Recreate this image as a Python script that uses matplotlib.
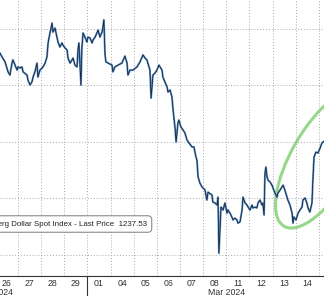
import matplotlib.pyplot as plt
from matplotlib import transforms
from matplotlib.patches import Ellipse

plt.rcParams['font.family'] = ['Liberation Sans', 'DejaVu Sans']

# trading-day slots shown on the axis (Feb 26 .. Mar 14, 2024)
days = ['26', '27', '28', '29', '01', '04', '05', '06', '07', '08', '11', '12', '13', '14']
months = ['Feb 2024', 'Mar 2024']
month_pos = [0.0, 10.0]
month_break = 4
grid_levels = [1232.5, 1235.0, 1237.5, 1240.0, 1242.5]

# intraday position (in trading-day slots) and index level
t_feb = [0.22, 0.31, 0.44, 0.57, 0.65, 0.74, 0.78, 0.87, 0.96, 1.00, 1.09, 1.17, 1.22, 1.39, 1.43,
         1.52, 1.60, 1.65, 1.73, 1.82, 1.86, 1.95, 2.04, 2.08, 2.17, 2.25, 2.30, 2.38, 2.47, 2.51,
         2.60, 2.68, 2.73, 2.81, 2.90, 2.94, 3.03, 3.12, 3.16, 3.25, 3.33, 3.38, 3.46, 3.55, 3.59,
         3.63, 3.72, 3.76, 3.81, 3.89, 3.98, 4.02, 4.11, 4.20, 4.24, 4.33, 4.41, 4.46, 4.54, 4.63,
         4.67, 4.71]
px_feb = [1241.43, 1241.26, 1241.04, 1240.60, 1240.46, 1240.99, 1241.13, 1240.90, 1240.68, 1240.82,
          1240.77, 1240.82, 1240.60, 1240.46, 1240.24, 1240.02, 1240.15, 1240.37, 1240.60, 1240.99,
          1240.37, 1240.68, 1240.77, 1240.82, 1240.99, 1241.26, 1241.88, 1242.32, 1242.76, 1242.36,
          1242.54, 1242.14, 1241.92, 1241.70, 1241.88, 1241.79, 1241.66, 1241.57, 1241.21, 1240.99,
          1241.13, 1241.21, 1240.90, 1240.82, 1241.57, 1241.88, 1240.02, 1241.66, 1242.32, 1242.14,
          1241.92, 1242.14, 1242.10, 1241.88, 1242.01, 1242.14, 1242.32, 1242.45, 1242.14, 1242.36,
          1242.59, 1242.90]

t_mid = [4.76, 4.80, 4.89, 5.06, 5.10, 5.19, 5.32, 5.49, 5.62, 5.71, 5.75, 5.84, 5.97, 6.14, 6.27,
         6.40, 6.49, 6.57, 6.70, 6.75, 6.83, 6.92, 7.00, 7.09, 7.22, 7.26, 7.44, 7.48, 7.57, 7.65,
         7.70, 7.78, 7.83, 7.91, 7.95, 8.04, 8.13, 8.21, 8.30, 8.39, 8.52, 8.60, 8.69, 8.73, 8.78,
         8.86, 8.95, 9.08, 9.16, 9.21, 9.38, 9.42, 9.51, 9.60, 9.64, 9.68]
px_mid = [1241.35, 1241.04, 1240.99, 1240.90, 1240.60, 1240.82, 1240.90, 1240.99, 1241.30, 1240.99,
          1240.46, 1240.68, 1240.68, 1240.82, 1241.04, 1241.35, 1241.21, 1241.13, 1240.68, 1239.44,
          1240.46, 1240.55, 1240.68, 1240.90, 1240.68, 1240.37, 1239.93, 1239.71, 1239.80, 1239.49,
          1238.91, 1238.16, 1237.50, 1238.34, 1238.47, 1238.16, 1238.03, 1237.90, 1237.59, 1237.45,
          1237.28, 1237.28, 1236.83, 1236.70, 1235.95, 1235.68, 1235.51, 1235.37, 1234.93, 1235.28,
          1235.15, 1234.84, 1234.80, 1234.71, 1235.06, 1232.58]

t_end = [9.77, 9.86, 9.94, 10.03, 10.07, 10.16, 10.24, 10.29, 10.37, 10.46, 10.50, 10.59, 10.68,
         10.72, 10.81, 10.89, 10.94, 11.02, 11.11, 11.15, 11.24, 11.32, 11.37, 11.45, 11.54, 11.58,
         11.63, 11.67, 11.71, 11.76, 11.80, 11.89, 11.97, 12.02, 12.10, 12.19, 12.23, 12.32, 12.40,
         12.45, 12.53, 12.62, 12.66, 12.75, 12.84, 12.88, 12.92, 13.01, 13.10, 13.18, 13.27, 13.31,
         13.40, 13.48, 13.53, 13.61, 13.70, 13.74, 13.79, 13.87, 13.96, 14.05, 14.13, 14.22]
px_end = [1234.62, 1234.49, 1234.80, 1234.35, 1234.49, 1234.35, 1234.18, 1234.05, 1234.13, 1234.05,
          1233.91, 1233.96, 1234.49, 1235.06, 1234.80, 1234.71, 1234.62, 1234.49, 1234.71, 1234.58,
          1234.62, 1234.58, 1234.80, 1234.93, 1234.71, 1234.80, 1234.27, 1236.12, 1236.39, 1235.95,
          1235.81, 1235.73, 1235.59, 1235.46, 1235.24, 1235.06, 1235.24, 1235.37, 1235.51, 1235.59,
          1235.37, 1235.06, 1234.93, 1234.71, 1234.35, 1233.91, 1234.18, 1234.05, 1234.35, 1234.49,
          1234.62, 1234.93, 1235.02, 1234.80, 1234.58, 1234.40, 1234.80, 1235.81, 1236.83, 1237.05,
          1237.01, 1237.23, 1237.45, 1237.53]

t = t_feb + t_mid + t_end
price = px_feb + px_mid + px_end

fig = plt.figure(figsize=(3.24, 2.96), dpi=100)
ax = fig.add_axes([0, 20 / 296, 1, 276 / 296])

ax.plot(t, price, color='#5a8fc6', lw=1.4, solid_joinstyle='round')
ax.plot(t, price, color='#152030', lw=0.55)

ax.set_xlim(0.222, 14.22)
ax.set_ylim(1231.57, 1243.78)

ax.set_xticks([i + 0.5 for i in range(len(days))], days)
ax.set_xticks(range(1, len(days) + 1), minor=True)
ax.set_yticks(grid_levels)
ax.tick_params(axis='y', left=False, labelleft=False)
ax.tick_params(axis='x', which='both', length=0, pad=2, labelsize=6.3, labelcolor='#333333')
ax.grid(which='minor', axis='x', ls=(0, (1, 2)), color='#a8a8a8', lw=0.7)
ax.grid(which='major', axis='y', ls=(0, (1, 2)), color='#a8a8a8', lw=0.7)
ax.grid(which='major', axis='x', visible=False)
for s in ['top', 'left', 'right']:
    ax.spines[s].set_visible(False)
ax.spines['bottom'].set_color('#333333')
ax.spines['bottom'].set_linewidth(0.8)

below = transforms.blended_transform_factory(ax.transData, ax.transAxes)
ax.plot([month_break, month_break], [0, -20 / 276], transform=below, clip_on=False,
        color='#333333', lw=0.8)
for pos, lab in zip(month_pos, months):
    ax.text(pos, -16.5 / 276, lab, transform=below, ha='center', va='center',
            fontsize=6.3, color='#333333')

# green highlight round the last two sessions
ring = Ellipse((0, 0), 1.56, 0.63, angle=60, fill=False, ec='#96d88a', lw=2.2,
               transform=fig.dpi_scale_trans + transforms.ScaledTranslation(14.18, 1236.76, ax.transData))
ax.add_patch(ring)

ax.text(147 / 324, 1 - 224 / 276,
        f'Bloomberg Dollar Spot Index - Last Price  {price[-1]:.2f}',
        transform=ax.transAxes, ha='right', va='center', fontsize=5.7, color='#222222',
        bbox=dict(boxstyle='round,pad=0.6,rounding_size=0.5', fc='white', ec='#8a8a8a', lw=0.8))

fig.savefig('out.png', dpi=100)
